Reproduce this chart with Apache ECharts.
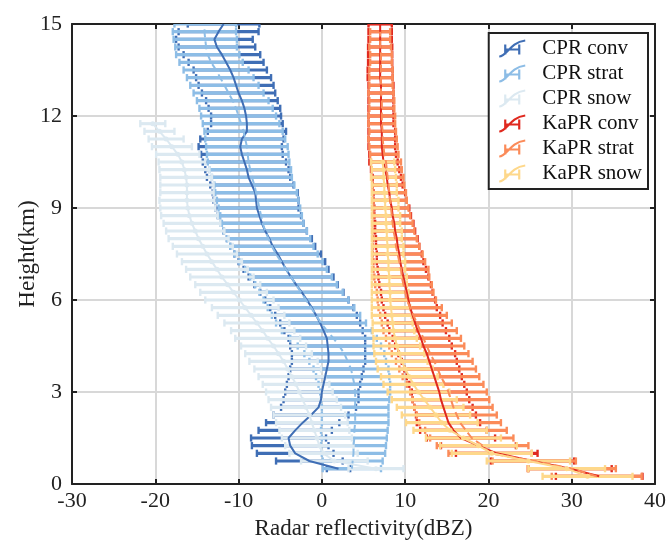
<!DOCTYPE html>
<html><head><meta charset="utf-8">
<script src="https://cdn.jsdelivr.net/npm/echarts@6/dist/echarts.min.js"></script>
<style>html,body{margin:0;padding:0;background:#fff}#c{width:668px;height:542px}</style>
</head><body><div id="c"></div>
<script>
// Heights (km) of the profile levels
const heights = [0.25,0.5,0.75,1,1.25,1.5,1.75,2,2.25,2.5,2.75,3,3.25,3.5,3.75,4,4.25,4.5,4.75,5,5.25,5.5,5.75,6,6.25,6.5,6.75,7,7.25,7.5,7.75,8,8.25,8.5,8.75,9,9.25,9.5,9.75,10,10.25,10.5,10.75,11,11.25,11.5,11.75,12,12.25,12.5,12.75,13,13.25,13.5,13.75,14,14.25,14.5,14.75,15];

const cprConvMean = [null,2.0,-1.5,-3.2,-3.8,-4.0,-3.2,-2.3,-1.3,-0.4,-0.1,0.0,0.2,0.4,0.6,0.8,0.8,0.7,0.6,0.2,-0.2,-0.7,-1.2,-1.8,-2.4,-3.1,-3.7,-4.3,-4.8,-5.3,-5.9,-6.3,-6.8,-7.2,-7.5,-7.8,-7.9,-8.0,-8.4,-8.8,-9.0,-9.3,-9.6,-9.8,-9.6,-9.0,-9.0,-9.1,-9.3,-9.6,-10.0,-10.3,-10.6,-11.0,-11.5,-12.0,-12.6,-12.9,-12.4,-11.8];
const cprConvSd = [null,1.4,4.0,4.6,4.6,4.5,4.4,4.4,4.5,4.5,4.5,4.4,4.4,4.4,4.4,4.4,4.4,4.5,4.6,4.7,4.8,4.9,5.0,5.0,5.0,5.0,5.1,5.1,5.2,5.2,5.1,5.1,5.0,5.0,5.0,5.0,5.1,5.1,5.0,5.0,5.0,5.0,4.9,5.0,5.0,4.7,4.3,4.2,4.3,4.3,4.4,4.5,4.5,4.4,4.5,4.6,4.6,4.6,4.8,4.3];

const cprStratMean = [null,3.6,3.7,3.8,3.8,3.9,3.9,4.0,4.0,4.0,4.0,4.0,3.9,3.7,3.5,3.1,2.7,2.1,1.4,0.6,-0.1,-0.7,-1.3,-1.9,-2.5,-3.1,-3.7,-4.3,-4.9,-5.5,-6.0,-6.4,-6.8,-7.1,-7.3,-7.5,-7.7,-7.9,-8.1,-8.4,-8.6,-8.8,-8.9,-9.0,-9.2,-9.4,-9.7,-10.0,-10.3,-10.7,-11.2,-11.7,-12.2,-12.7,-13.3,-13.7,-13.9,-14.0,-14.1,-14.0];
const cprStratSd = [null,3.5,3.6,3.8,3.9,3.9,4.0,4.0,4.0,4.0,4.1,4.2,4.3,4.4,4.5,4.6,4.8,5.0,5.2,5.4,5.4,5.3,5.2,5.1,5.0,4.9,4.9,4.9,5.0,5.0,5.0,5.0,5.0,4.9,4.9,4.9,4.9,4.9,4.8,4.8,4.9,4.9,4.9,4.9,4.8,4.7,4.6,4.5,4.4,4.3,4.2,4.1,4.0,3.9,3.8,3.8,3.7,3.8,3.8,3.7];

const cprSnowMean = [null,6.5,1.5,0.2,-0.3,-0.6,-0.9,-1.2,-1.5,-1.9,-2.3,-2.7,-3.1,-3.6,-4.1,-4.6,-5.2,-5.8,-6.5,-7.1,-7.8,-8.5,-9.2,-9.9,-10.6,-11.3,-12.0,-12.6,-13.2,-13.8,-14.3,-14.8,-15.2,-15.6,-15.9,-16.1,-16.2,-16.2,-16.2,-16.3,-16.5,-16.8,-17.3,-18.0,-18.7,-19.5,-20.3,null,null,null,null,null,null,null,null,null,null,null,null,null];
const cprSnowSd = [null,3.3,4.0,4.1,4.1,4.2,4.2,4.3,4.3,4.2,4.1,4.0,4.0,4.0,4.0,4.1,4.0,3.9,3.9,3.8,3.9,4.0,4.0,4.1,4.0,3.9,3.8,3.7,3.6,3.6,3.6,3.6,3.5,3.4,3.4,3.3,3.3,3.2,3.2,3.1,3.0,2.8,2.6,2.4,2.1,1.8,1.5,null,null,null,null,null,null,null,null,null,null,null,null,null];

const kaConvMean = [33.3,29.8,25.3,21.0,18.8,16.7,15.8,15.2,14.9,14.6,14.3,14.1,13.8,13.5,13.2,12.9,12.6,12.2,11.9,11.5,11.2,10.9,10.6,10.4,10.2,10.0,9.8,9.6,9.4,9.3,9.1,9.0,8.8,8.7,8.5,8.4,8.2,8.1,7.9,7.8,7.6,7.4,7.3,7.2,7.2,7.2,7.1,7.1,7.1,7.1,7.1,7.1,7.0,7.0,7.0,7.0,7.0,7.0,7.0,7.0];
const kaConvSd = [5.2,5.0,5.0,4.9,4.5,4.1,4.0,3.8,3.6,3.5,3.4,3.3,3.3,3.3,3.3,3.3,3.4,3.4,3.4,3.4,3.3,3.3,3.2,3.2,3.1,3.1,3.0,2.9,2.8,2.7,2.6,2.5,2.4,2.3,2.2,2.1,2.0,1.9,1.8,1.7,1.7,1.7,1.6,1.6,1.6,1.6,1.5,1.5,1.5,1.5,1.5,1.5,1.5,1.5,1.45,1.45,1.45,1.4,1.4,1.4];

const kaStratMean = [33.0,30.0,25.5,20.2,19.3,18.0,17.3,16.6,16.2,15.8,15.5,15.2,14.8,14.3,13.9,13.5,13.0,12.6,12.2,11.8,11.4,11.0,10.6,10.2,10.0,9.8,9.6,9.5,9.3,9.1,8.9,8.8,8.6,8.5,8.4,8.3,8.2,8.1,8.0,7.9,7.8,7.7,7.5,7.4,7.3,7.3,7.2,7.2,7.2,7.2,7.1,7.1,7.1,7.1,7.1,7.1,7.0,7.0,7.0,null];
const kaStratSd = [5.4,5.3,5.0,5.0,5.5,5.0,4.9,4.9,4.8,4.7,4.6,4.6,4.6,4.6,4.6,4.6,4.6,4.5,4.5,4.4,4.2,4.0,3.8,3.5,3.4,3.4,3.3,3.3,3.1,3.0,2.8,2.6,2.5,2.4,2.2,2.1,2.0,2.0,1.9,1.9,1.8,1.8,1.7,1.7,1.7,1.6,1.6,1.6,1.5,1.5,1.5,1.4,1.4,1.4,1.3,1.3,1.3,1.2,1.2,null];

const kaSnowMean = [31.9,29.4,24.8,20.4,18.8,17.0,15.4,14.4,13.7,13.0,12.3,11.6,11.0,10.5,10.0,9.6,9.3,9.0,8.8,8.6,8.5,8.4,8.3,8.2,8.2,8.1,8.1,8.0,8.0,7.9,7.9,7.8,7.8,7.7,7.7,7.6,7.6,7.5,7.5,7.4,7.4,7.3,null,null,null,null,null,null,null,null,null,null,null,null,null,null,null,null,null,null];
const kaSnowSd = [5.4,4.6,5.0,4.8,4.6,4.5,4.4,4.3,4.1,4.0,3.9,3.7,3.6,3.4,3.3,3.1,3.0,2.8,2.6,2.5,2.4,2.4,2.3,2.2,2.2,2.1,2.1,2.0,2.0,1.9,1.9,1.8,1.8,1.7,1.7,1.6,1.6,1.5,1.5,1.5,1.4,1.4,null,null,null,null,null,null,null,null,null,null,null,null,null,null,null,null,null,null];

const xTicks = [-30,-20,-10,0,10,20,30,40];
const yTicks = [0,3,6,9,12,15];

const seriesDefs = [
  {name:'CPR conv',  mean:cprConvMean,  sd:cprConvSd,  color:'#3f6eb5', dash:'solid',  marker:false},
  {name:'CPR strat', mean:cprStratMean, sd:cprStratSd, color:'#8dbde6', dash:'dashed', marker:false},
  {name:'CPR snow',  mean:cprSnowMean,  sd:cprSnowSd,  color:'#dce9f1', dash:'solid',  marker:true},
  {name:'KaPR conv', mean:kaConvMean,   sd:kaConvSd,   color:'#e0291f', dash:'solid',  marker:false},
  {name:'KaPR strat',mean:kaStratMean,  sd:kaStratSd,  color:'#fb8b59', dash:'dashed', marker:false},
  {name:'KaPR snow', mean:kaSnowMean,   sd:kaSnowSd,   color:'#fed88b', dash:'solid',  marker:true}
];

const FONT = 'Liberation Serif';
const chart = echarts.init(document.getElementById('c'), null, {renderer:'canvas'});

const series = [];
seriesDefs.forEach(d => {
  const barData = [], lineData = [];
  heights.forEach((h, i) => {
    if (d.mean[i] == null) return;
    barData.push([d.mean[i] - d.sd[i], h, d.mean[i] + d.sd[i]]);
    lineData.push([d.mean[i], h]);
  });
  series.push({
    name: d.name, type: 'custom', data: barData, clip: true,
    itemStyle: {color: d.color},
    encode: {x: [0, 2], y: 1},
    renderItem: (params, api) => {
      const h = api.value(1);
      const a = api.coord([api.value(0), h]);
      const b = api.coord([api.value(2), h]);
      const c = 3.6;
      const st = {stroke: d.color, lineWidth: 3.1};
      const cs = {stroke: d.color, lineWidth: 2.4};
      return {type: 'group', children: [
        {type: 'line', shape: {x1: a[0], y1: a[1], x2: b[0], y2: b[1]}, style: st},
        {type: 'line', shape: {x1: a[0], y1: a[1]-c, x2: a[0], y2: a[1]+c}, style: cs},
        {type: 'line', shape: {x1: b[0], y1: b[1]-c, x2: b[0], y2: b[1]+c}, style: cs}
      ]};
    }
  });
  series.push({
    name: d.name + ' mean', type: 'line', data: lineData,
    showSymbol: d.marker, symbol: 'circle', symbolSize: 5,
    itemStyle: {color: d.color}, lineStyle: {color: d.color, width: 2, type: d.dash},
    emphasis: {disabled: true}, animation: false
  });
});

const icon = 'path://M0,18 C8,18 10,4 26,2 M6,6 L6,16 M6,11 L20,11 M20,6 L20,16';

const axisCommon = {
  type: 'value',
  axisLine: {show: true, onZero: false, lineStyle: {color: '#222', width: 2}},
  axisTick: {show: true, inside: true, length: 5, lineStyle: {color: '#222', width: 2}},
  axisLabel: {fontFamily: FONT, fontSize: 22, color: '#222'},
  splitLine: {show: false}
};

chart.setOption({
  animation: false,
  backgroundColor: '#fff',
  grid: {left: 72, right: 13, top: 24, bottom: 58, containLabel: false, outerBoundsMode: 'none'},
  xAxis: [
    Object.assign({}, axisCommon, {
      min: -30, max: 40, interval: 10, position: 'bottom',
      axisLabel: {fontFamily: FONT, fontSize: 22, color: '#222', margin: 6,
        formatter: v => xTicks.includes(v) ? String(v) : ''},
      splitLine: {show: true, lineStyle: {color: '#d8d8d8', width: 2}},
      name: 'Radar reflectivity(dBZ)', nameLocation: 'middle', nameGap: 33, nameMoveOverlap: false,
      nameTextStyle: {fontFamily: FONT, fontSize: 23, color: '#222'}
    }),
    Object.assign({}, axisCommon, {
      min: -30, max: 40, interval: 10, position: 'top', axisLabel: {show: false}
    })
  ],
  yAxis: [
    Object.assign({}, axisCommon, {
      min: 0, max: 15, interval: 3, position: 'left',
      axisLabel: {fontFamily: FONT, fontSize: 22, color: '#222', margin: 10,
        formatter: v => yTicks.includes(v) ? String(v) : ''},
      splitLine: {show: true, lineStyle: {color: '#d8d8d8', width: 2}},
      name: 'Height(km)', nameLocation: 'middle', nameGap: 33, nameRotate: 90, nameMoveOverlap: false,
      nameTextStyle: {fontFamily: FONT, fontSize: 23, color: '#222'}
    }),
    Object.assign({}, axisCommon, {
      min: 0, max: 15, interval: 3, position: 'right', axisLabel: {show: false}
    })
  ],
  legend: {
    orient: 'vertical', right: 20, top: 33,
    backgroundColor: '#fff', borderColor: '#222', borderWidth: 2,
    padding: [5, 6, 5, 8], itemGap: 4, itemWidth: 30, itemHeight: 16,
    textStyle: {fontFamily: FONT, fontSize: 21, color: '#111', padding: [0, 0, 0, 10]},
    selectedMode: false,
    data: seriesDefs.map(d => ({
      name: d.name, icon: icon,
      itemStyle: {color: 'none', borderColor: d.color, borderWidth: 2.2}
    }))
  },
  series: series
});
</script>
</body></html>
